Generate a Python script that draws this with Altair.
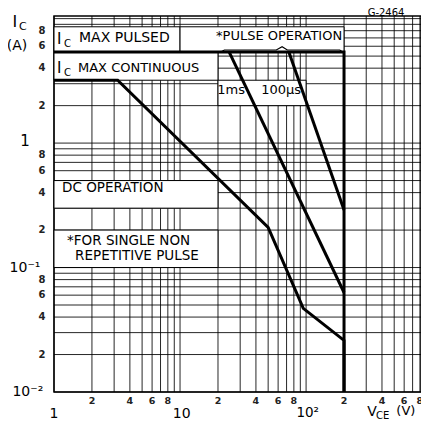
import altair as alt
import pandas as pd

FONT = "DejaVu Sans"

# ---- limit curves (V_CE in V, I_C in A) ----
dc_v = [1, 3.2, 50, 95, 200, 200]
dc_i = [3.2, 3.2, 0.21, 0.047, 0.026, 0.01]
pulsed_v = [1, 200, 200]
pulsed_i = [5.4, 5.4, 0.01]
ms1_v = [24.5, 200]
ms1_i = [5.4, 0.063]
us100_v = [73, 200]
us100_i = [5.4, 0.29]
brace_v = [21, 22.5, 58, 64.5, 71, 185, 195]
brace_i = [5.4, 5.6, 5.6, 5.95, 5.6, 5.6, 5.4]

# ---- white label boxes ----
box_x1 = [1, 10, 1, 1, 1, 20]
box_x2 = [10, 200, 20, 20, 20, 100]
box_y1 = [5.4, 5.4, 3.2, 0.3, 0.1, 2.0]
box_y2 = [8.6, 8.6, 5.4, 0.5, 0.2, 3.2]

# ---- grid values ----
x_grid = [1, 2, 3, 4, 5, 6, 7, 8, 9, 10, 20, 30, 40, 50, 60, 70, 80, 90,
          100, 200, 300, 400, 500, 600, 700, 800]
y_grid = [0.01, 0.02, 0.03, 0.04, 0.05, 0.06, 0.07, 0.08, 0.09,
          0.1, 0.2, 0.3, 0.4, 0.5, 0.6, 0.7, 0.8, 0.9,
          1, 2, 3, 4, 5, 6, 7, 8, 9, 10]

# ---- small tick labels ----
x_tick_vals = [2, 4, 6, 8, 20, 40, 60, 80, 200, 400, 600, 800]
x_tick_text = ["2", "4", "6", "8", "2", "4", "6", "8", "2", "4", "6", "8"]
y_tick_vals = [0.02, 0.04, 0.06, 0.08, 0.2, 0.4, 0.6, 0.8, 2, 4, 6, 8]
y_tick_text = ["2", "4", "6", "8", "2", "4", "6", "8", "2", "4", "6", "8"]

# ---- annotations ----
left_text = ["I", "C", "MAX PULSED", "I", "C", "MAX CONTINUOUS", "*PULSE OPERATION",
             "DC OPERATION", "*FOR SINGLE NON", "REPETITIVE PULSE", "V", "CE", "(V)"]
left_x = [1.056, 1.20, 1.58, 1.056, 1.20, 1.55, 19.3, 1.16, 1.27, 1.47, 305, 359, 520]
left_y = [6.84, 6.24, 7.04, 4.0, 3.65, 4.0, 7.23, 0.435, 0.163, 0.124, 0.0069, 0.00641, 0.00700]
left_size = [15, 10, 14, 15, 10, 13, 13, 13.5, 13.5, 13.5, 14, 10, 13]

center_text = ["1ms", "100µs", "G-2464", "1", "10", "10²", "1", "10⁻¹", "10⁻²", "I", "C", "(A)"]
center_x = [25.4, 63.4, 431, 1, 10.3, 103, 0.589, 0.589, 0.62, 0.49, 0.567, 0.508]
center_y = [2.67, 2.67, 11.2, 0.00666, 0.00666, 0.0068, 1.03, 0.1, 0.01, 9.38, 8.55, 6.01]
center_size = [13, 13, 10, 14, 14, 13.5, 15, 14, 14, 16, 11, 14]

W, H = 367, 376
xs = alt.Scale(type="log", domain=[1, 816], nice=False)
ys = alt.Scale(type="log", domain=[0.01, 10.5], nice=False)
X = lambda f: alt.X(f, scale=xs, axis=None)
Y = lambda f: alt.Y(f, scale=ys, axis=None)

vgrid = alt.Chart(pd.DataFrame({"v": x_grid})).mark_rule(color="black", strokeWidth=1, opacity=0.85).encode(
    x=X("v:Q"), y=alt.value(0), y2=alt.value(H))
hgrid = alt.Chart(pd.DataFrame({"i": y_grid})).mark_rule(color="black", strokeWidth=1, opacity=0.85).encode(
    y=Y("i:Q"), x=alt.value(0), x2=alt.value(W))

xt = alt.Chart(pd.DataFrame({"v": x_tick_vals, "t": x_tick_text})).mark_text(
    font=FONT, fontSize=9.5, fontWeight="bold", align="center", baseline="middle", color="#222").encode(
    x=X("v:Q"), y=alt.value(H + 9), text="t:N")
yt = alt.Chart(pd.DataFrame({"i": y_tick_vals, "t": y_tick_text})).mark_text(
    font=FONT, fontSize=10, fontWeight="bold", align="center", baseline="middle", color="#222").encode(
    y=Y("i:Q"), x=alt.value(-12), text="t:N")

boxes_df = pd.DataFrame({"x1": box_x1, "x2": box_x2, "y1": box_y1, "y2": box_y2})
boxes = alt.Chart(boxes_df).mark_rect(fill="white", stroke="black", strokeWidth=1).encode(
    x=X("x1:Q"), x2="x2:Q", y=Y("y1:Q"), y2="y2:Q")


def curve(vs, cs, width):
    df = pd.DataFrame({"v": vs, "i": cs, "k": list(range(len(vs)))})
    return alt.Chart(df).mark_line(color="black", strokeWidth=width, strokeJoin="miter").encode(
        x=X("v:Q"), y=Y("i:Q"), order="k:Q")


lines = [curve(dc_v, dc_i, 3), curve(pulsed_v, pulsed_i, 3), curve(ms1_v, ms1_i, 3),
         curve(us100_v, us100_i, 3), curve(brace_v, brace_i, 1.2)]

ltxt_df = pd.DataFrame({"t": left_text, "x": left_x, "y": left_y, "s": left_size})
ltxt = alt.Chart(ltxt_df).mark_text(align="left", baseline="middle", font=FONT, color="black").encode(
    x=X("x:Q"), y=Y("y:Q"), text="t:N", size=alt.Size("s:Q", scale=None, legend=None))
ctxt_df = pd.DataFrame({"t": center_text, "x": center_x, "y": center_y, "s": center_size})
ctxt = alt.Chart(ctxt_df).mark_text(align="center", baseline="middle", font=FONT, color="black").encode(
    x=X("x:Q"), y=Y("y:Q"), text="t:N", size=alt.Size("s:Q", scale=None, legend=None))

chart = alt.layer(vgrid, hgrid, boxes, *lines, xt, yt, ltxt, ctxt).properties(
    width=W, height=H,
    padding={"left": 46, "top": 8, "right": 0, "bottom": 29},
    autosize="none",
    background="white",
).configure_view(stroke="black", strokeWidth=1.5)

chart.save("out.html", embed_options={"renderer": "svg", "actions": False})
